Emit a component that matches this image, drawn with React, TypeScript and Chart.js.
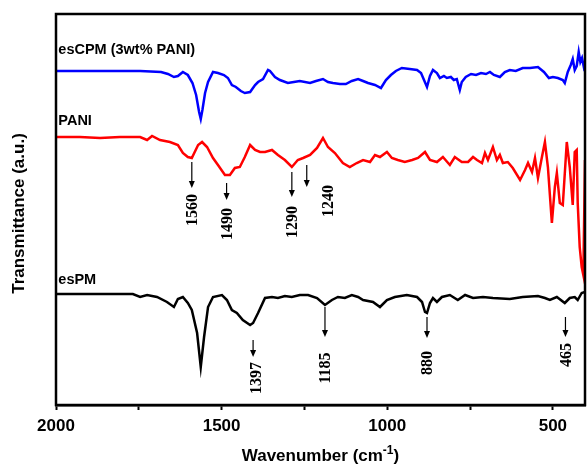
import React, { useEffect, useRef } from "react";
import { Chart, registerables } from "chart.js";

Chart.register(...registerables);

// Wavenumber (cm-1) and transmittance (a.u.)
const escpmWn = [2000, 1867, 1746, 1683, 1662, 1644, 1632, 1617, 1602, 1588, 1577, 1568, 1563, 1558, 1550, 1541, 1526, 1511, 1493, 1481, 1469, 1457, 1442, 1430, 1414, 1399, 1390, 1375, 1360, 1354, 1339, 1324, 1300, 1282, 1264, 1233, 1215, 1194, 1179, 1164, 1143, 1125, 1107, 1088, 1073, 1058, 1037, 1019, 1004, 989, 974, 956, 932, 910, 898, 889, 880, 871, 862, 850, 841, 829, 820, 808, 799, 790, 781, 775, 763, 747, 732, 717, 702, 690, 678, 660, 645, 630, 612, 591, 569, 545, 527, 512, 500, 485, 470, 464, 455, 446, 440, 434, 428, 422, 417, 412, 406, 403];
const escpmT = [334, 334, 334, 333, 331, 328, 329, 333, 330, 322, 310, 293, 286, 295, 312, 323, 333, 332, 330, 327, 320, 318, 314, 312, 313, 320, 323, 326, 335, 334, 328, 325, 322, 323, 324, 322, 324, 326, 323, 322, 321, 321, 324, 326, 324, 322, 320, 317, 325, 330, 334, 337, 336, 335, 332, 325, 318, 329, 335, 332, 327, 329, 327, 328, 325, 326, 315, 323, 328, 331, 330, 332, 331, 333, 330, 328, 333, 335, 334, 337, 337, 338, 333, 327, 328, 327, 325, 322, 333, 340, 346, 335, 339, 353, 343, 347, 337, 339];

const paniWn = [2000, 1928, 1867, 1807, 1746, 1725, 1710, 1686, 1656, 1632, 1617, 1602, 1590, 1571, 1559, 1544, 1526, 1511, 1490, 1475, 1460, 1445, 1430, 1414, 1399, 1384, 1369, 1348, 1330, 1309, 1288, 1270, 1254, 1233, 1212, 1194, 1179, 1158, 1134, 1113, 1092, 1073, 1052, 1037, 1022, 1001, 986, 968, 947, 925, 907, 886, 871, 850, 832, 811, 796, 775, 756, 741, 729, 714, 705, 696, 681, 669, 660, 651, 636, 621, 599, 584, 575, 563, 554, 545, 533, 524, 515, 503, 494, 488, 479, 470, 458, 449, 440, 434, 428, 425, 419, 413, 408, 403];
const paniT = [268, 268, 267, 268, 268, 265, 269, 265, 263, 260, 252, 248, 247, 260, 263, 258, 247, 240, 230, 230, 237, 238, 248, 260, 255, 253, 253, 255, 250, 245, 238, 245, 247, 250, 257, 267, 258, 252, 242, 238, 242, 245, 243, 250, 248, 253, 247, 245, 243, 245, 247, 253, 245, 243, 248, 240, 248, 243, 243, 248, 245, 242, 252, 245, 258, 245, 250, 242, 243, 237, 225, 235, 242, 233, 247, 227, 248, 263, 238, 182, 218, 232, 202, 200, 263, 238, 200, 253, 255, 202, 158, 138, 130, 245];

const espmWn = [2000, 1928, 1837, 1768, 1746, 1725, 1695, 1665, 1644, 1632, 1617, 1602, 1590, 1574, 1563, 1553, 1541, 1526, 1499, 1484, 1469, 1454, 1436, 1414, 1405, 1390, 1369, 1348, 1330, 1309, 1288, 1264, 1239, 1212, 1188, 1167, 1149, 1128, 1107, 1088, 1073, 1043, 1022, 1001, 977, 941, 910, 895, 886, 880, 871, 862, 850, 835, 811, 787, 765, 741, 711, 681, 630, 591, 545, 524, 509, 488, 464, 449, 434, 425, 413, 403];
const espmT = [111, 111, 111, 111, 108, 110, 108, 103, 98, 106, 108, 102, 95, 72, 38, 68, 98, 108, 110, 105, 95, 92, 85, 80, 82, 92, 107, 108, 107, 109, 108, 110, 110, 107, 100, 105, 108, 107, 110, 108, 105, 103, 98, 105, 108, 110, 108, 103, 93, 92, 102, 107, 103, 108, 110, 105, 110, 107, 108, 107, 106, 108, 109, 107, 105, 108, 102, 107, 108, 105, 112, 113];

const seriesNames = ["esCPM (3wt% PANI)", "PANI", "esPM"];
const seriesColors = ["#0000ff", "#ff0000", "#000000"];
const seriesLabelY = [355, 284, 125];

// x ticks
const tickValues = [2000, 1750, 1500, 1250, 1000, 750, 500];
const labeledTicks = [2000, 1500, 1000, 500];

// peak annotations: label, arrow x, arrow top, arrow bottom, text x, text y (data units)
const peakLabels = ["1560", "1490", "1290", "1240", "1397", "1185", "880", "465"];
const peakArrowX = [1590, 1485, 1288, 1243, 1405, 1188, 880, 462];
const peakArrowTop = [243, 222, 233, 240, 65, 98, 88, 88];
const peakArrowBottom = [217, 205, 208, 218, 48, 68, 67, 68];
const peakTextX = [1590, 1485, 1288, 1179, 1396, 1188, 880, 462];
const peakTextY = [195, 181, 183, 204, 27, 37, 42, 50];

const overlay = {
  id: "overlay",
  afterDatasetsDraw(chart: any) {
    const { ctx, chartArea, scales } = chart;
    const xs = scales.x;
    const ys = scales.y;
    ctx.save();
    // frame
    ctx.strokeStyle = "#000";
    ctx.lineWidth = 2.5;
    ctx.strokeRect(chartArea.left, chartArea.top, chartArea.right - chartArea.left, chartArea.bottom - chartArea.top);

    // series labels
    ctx.fillStyle = "#000";
    ctx.font = 'bold 14.5px "Liberation Sans", Arial, sans-serif';
    ctx.textAlign = "left";
    ctx.textBaseline = "middle";
    seriesNames.forEach((n, i) => {
      ctx.fillText(n, xs.getPixelForValue(1993), ys.getPixelForValue(seriesLabelY[i]));
    });

    // peak arrows and labels
    peakLabels.forEach((lab, i) => {
      const ax = xs.getPixelForValue(peakArrowX[i]);
      const y1 = ys.getPixelForValue(peakArrowTop[i]);
      const y2 = ys.getPixelForValue(peakArrowBottom[i]);
      ctx.strokeStyle = "#000";
      ctx.lineWidth = 1.2;
      ctx.beginPath();
      ctx.moveTo(ax, y1);
      ctx.lineTo(ax, y2 - 5);
      ctx.stroke();
      ctx.beginPath();
      ctx.moveTo(ax - 3, y2 - 7);
      ctx.lineTo(ax + 3, y2 - 7);
      ctx.lineTo(ax, y2);
      ctx.closePath();
      ctx.fill();
      const tx = xs.getPixelForValue(peakTextX[i]);
      const ty = ys.getPixelForValue(peakTextY[i]);
      ctx.save();
      ctx.translate(tx, ty);
      ctx.rotate(-Math.PI / 2);
      ctx.font = 'bold 16px "Liberation Serif", "Times New Roman", serif';
      ctx.textAlign = "center";
      ctx.textBaseline = "middle";
      ctx.fillText(lab, 0, 1);
      ctx.restore();
    });

    // x title with superscript
    const cx = (chartArea.left + chartArea.right) / 2;
    const base = 461;
    const f1 = 'bold 17px "Liberation Sans", Arial, sans-serif';
    const f2 = 'bold 12px "Liberation Sans", Arial, sans-serif';
    const p1 = "Wavenumber (cm";
    const p2 = "-1";
    const p3 = ")";
    ctx.font = f1;
    const w1 = ctx.measureText(p1).width;
    const w3 = ctx.measureText(p3).width;
    ctx.font = f2;
    const w2 = ctx.measureText(p2).width;
    let sx = cx - (w1 + w2 + w3) / 2;
    ctx.textAlign = "left";
    ctx.textBaseline = "alphabetic";
    ctx.font = f1;
    ctx.fillText(p1, sx, base);
    sx += w1;
    ctx.font = f2;
    ctx.fillText(p2, sx, base - 7);
    sx += w2;
    ctx.font = f1;
    ctx.fillText(p3, sx, base);

    // y title
    ctx.save();
    ctx.translate(19, (chartArea.top + chartArea.bottom) / 2 + 4);
    ctx.rotate(-Math.PI / 2);
    ctx.font = 'bold 17px "Liberation Sans", Arial, sans-serif';
    ctx.textAlign = "center";
    ctx.textBaseline = "middle";
    ctx.fillText("Transmittance (a.u.)", 0, 0);
    ctx.restore();

    ctx.restore();
  },
};

export default function App() {
  const ref = useRef<HTMLCanvasElement>(null);
  useEffect(() => {
    if (!ref.current) return;
    const wns = [escpmWn, paniWn, espmWn];
    const ts = [escpmT, paniT, espmT];
    const chart = new Chart(ref.current, {
      type: "line",
      data: {
        datasets: seriesNames.map((n, i) => ({
          label: n,
          data: wns[i].map((w, j) => ({ x: w, y: ts[i][j] })),
          borderColor: seriesColors[i],
          borderWidth: 2.5,
          pointRadius: 0,
          tension: 0,
          fill: false,
        })),
      },
      options: {
        animation: false,
        responsive: true,
        maintainAspectRatio: false,
        layout: { padding: { top: 14, right: 2, left: 0, bottom: 0 } },
        plugins: { legend: { display: false }, tooltip: { enabled: false } },
        scales: {
          x: {
            type: "linear",
            reverse: true,
            min: 403,
            max: 2000,
            afterBuildTicks: (scale: any) => {
              scale.ticks = tickValues.map((v) => ({ value: v }));
            },
            afterFit: (scale: any) => {
              scale.height = 63;
            },
            grid: {
              drawOnChartArea: false,
              drawTicks: true,
              tickLength: 5,
              tickWidth: 2,
              color: "#000",
            },
            border: { display: true, color: "#000", width: 2.5 },
            ticks: {
              autoSkip: false,
              maxRotation: 0,
              padding: 6,
              color: "#000",
              font: { family: '"Liberation Sans", Arial, sans-serif', size: 17, weight: "bold" },
              callback: (v: any) => (labeledTicks.includes(Number(v)) ? String(v) : ""),
            },
          },
          y: {
            type: "linear",
            min: 0,
            max: 391,
            afterFit: (scale: any) => {
              scale.width = 56;
            },
            grid: { display: false },
            border: { display: false },
            ticks: { display: false },
          },
        },
      },
      plugins: [overlay],
    });
    return () => chart.destroy();
  }, []);
  return (
    <div style={{ position: "absolute", left: 0, top: 0, width: 587, height: 468, background: "#fff" }}>
      <canvas ref={ref} />
    </div>
  );
}
